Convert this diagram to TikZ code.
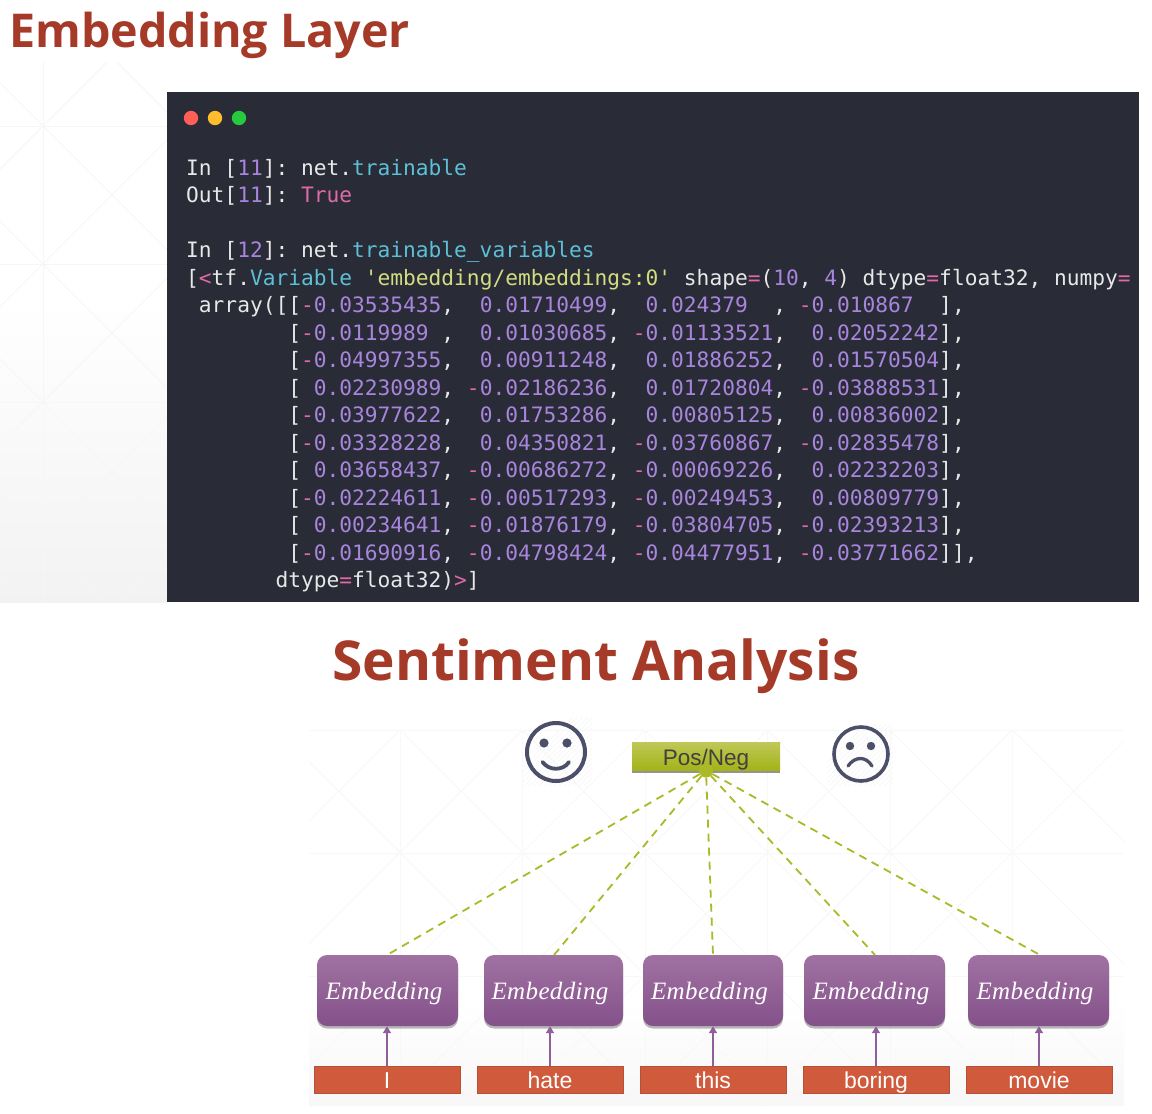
\documentclass[tikz,border=0pt]{standalone}
\usepackage{fontspec}
\usepackage{xcolor}
\usetikzlibrary{arrows.meta,shadows}
\newfontfamily\codefont{DejaVu Sans Mono}
\newfontfamily\titlefont{Open Sans}
\newfontfamily\labelfont{Liberation Sans}
\newfontfamily\embfont[LetterSpace=1.5]{Liberation Serif}
\definecolor{cTerm}{HTML}{292B36}
\definecolor{cWhite}{HTML}{E8E8E8}
\definecolor{cCyan}{HTML}{5CC0D6}
\definecolor{cPink}{HTML}{E06AA8}
\definecolor{cPurp}{HTML}{A885DC}
\definecolor{cYell}{HTML}{D3DC80}
\definecolor{cTitle}{HTML}{A53A28}
\definecolor{cOlive}{HTML}{AAB925}
\definecolor{cFace}{HTML}{4B4F68}
\definecolor{cLine}{HTML}{F6F6F6}
\definecolor{cLineB}{HTML}{F8F8F8}
\definecolor{cWord}{HTML}{D05A3C}
\definecolor{cWordB}{HTML}{B84F38}
\definecolor{cArrow}{HTML}{8E5F9A}
\definecolor{cEmbTop}{HTML}{A072A2}
\definecolor{cEmbBot}{HTML}{84518A}
\definecolor{cDotR}{HTML}{FF5F56}
\definecolor{cDotY}{HTML}{FFBD2E}
\definecolor{cDotG}{HTML}{27C93F}
\definecolor{cPosTop}{HTML}{BFC858}
\definecolor{cPosBot}{HTML}{A3B317}
\newcommand\cC[1]{\textcolor{cCyan}{#1}}
\newcommand\cK[1]{\textcolor{cPink}{#1}}
\newcommand\cN[1]{\textcolor{cPurp}{#1}}
\newcommand\cY[1]{\textcolor{cYell}{#1}}
\newcommand\mm{\cK{-}}
\tikzset{
  codeline/.style={anchor=base west,inner sep=0pt,text=cWhite,font=\codefont\fontsize{21.2}{21.2}\selectfont},
  embbox/.style={draw=none,rounded corners=10pt,minimum height=71pt,inner sep=0pt,
    top color=cEmbTop,bottom color=cEmbBot,text=white,text height=21pt,text depth=4pt,
    drop shadow={shadow xshift=0pt,shadow yshift=-2.5pt,opacity=.4,fill=black!70},
    font=\embfont\itshape\fontsize{25}{25}\selectfont},
  wordbox/.style={draw=cWordB,line width=.9pt,fill=cWord,minimum width=146pt,minimum height=27pt,inner sep=0pt,
    text=white,text height=20pt,text depth=3pt,font=\labelfont\fontsize{23}{23}\selectfont},
  dashlink/.style={draw=cOlive,line width=1.8pt,dash pattern=on 8pt off 6pt},
  uparrow/.style={draw=cArrow,line width=1.6pt,-{Triangle[length=7pt,width=8pt]}},
  facering/.style={circle,draw=cFace,line width=4pt,inner sep=0pt,fill=none},
  faceline/.style={draw=cFace,line width=3.8pt,line cap=round},
  bgline/.style={draw=cLine,line width=.9pt},
  bglineb/.style={draw=cLineB,line width=.9pt},
  bghatch/.style={draw=cLineB,line width=.8pt},
  titletext/.style={anchor=base west,inner sep=0pt,text=cTitle}
}
\begin{document}
\begin{tikzpicture}[x=1pt,y=-1pt]
\useasboundingbox (0,0) rectangle (1152,1114);
\fill[white] (0,0) rectangle (1152,1114);
% upper background
\shade[top color=white,bottom color=white!95!black] (0,300) rectangle (167,602);
\begin{scope}
\clip (0,62) rectangle (167,602);
\foreach \k in {0,1,2,3}{
  \draw[bgline] (0,126+138*\k) -- (167,126+138*\k);
}
\draw[bgline] (43,62) -- (43,602);
\foreach \k in {-3,...,4}{
  \draw[bgline] (-100,-17+138*\k) -- (600,683+138*\k);
  \draw[bgline] (-100,269+138*\k) -- (600,-431+138*\k);
}
\end{scope}
% lower background
\shade[top color=white,bottom color=white!97!black] (309,1000) rectangle (1124,1105);
\begin{scope}
\clip (309,730) rectangle (1124,1105);
\foreach \k in {0,1,2,3}{
  \draw[bglineb] (309,730+123*\k) -- (1124,730+123*\k);
}
\foreach \k in {-1,0,...,6}{
  \draw[bglineb] (400+122.5*\k,730) -- (400+122.5*\k,1105);
  \draw[bglineb] (400+122.5*\k,730) -- (800+122.5*\k,1130);
  \draw[bglineb] (400+122.5*\k,730) -- (0+122.5*\k,1130);
}
\end{scope}
% hatches behind the faces
\begin{scope}
\clip (522,717) rectangle (592,785);
\foreach \k in {0,...,28}{\draw[bghatch] (500+5*\k,790) -- (580+5*\k,710);}
\end{scope}
\begin{scope}
\clip (827,724) rectangle (893,785);
\foreach \k in {0,...,28}{\draw[bghatch] (800+5*\k,790) -- (880+5*\k,710);}
\end{scope}
% titles
\node[titletext,font=\titlefont\bfseries\fontsize{46.6}{46.6}\selectfont] (title1) at (9,47) {Embedding Layer};
\node[titletext,font=\titlefont\bfseries\fontsize{55}{55}\selectfont] (title2) at (332,680) {Sentiment Analysis};
% terminal
\fill[cTerm] (166.5,92) rectangle (1139,602);
\fill[cDotR] (191,118) circle (7.2);
\fill[cDotY] (215,118) circle (7.2);
\fill[cDotG] (239,118) circle (7.2);
\newcommand\codeat[3]{\node[codeline] (code#1) at (186,175.5+27.47*#2) {#3};}
\codeat{a}{0}{In~[\cN{11}]:~net.\cC{trainable}}
\codeat{b}{1}{Out[\cN{11}]:~\cK{True}}
\codeat{c}{3}{In~[\cN{12}]:~net.\cC{trainable\_variables}}
\codeat{d}{4}{[\cK{<}tf.\cC{Variable}~\cY{\char39 embedding/embeddings:0\char39}~shape\cK{=}(\cN{10},~\cN{4})~dtype\cK{=}float32,~numpy\cK{=}}
\codeat{e}{5}{~array([[\mm\cN{0.03535435},~~\cN{0.01710499},~~\cN{0.024379}~~,~\mm\cN{0.010867}~~],}
\codeat{f}{6}{~~~~~~~~[\mm\cN{0.0119989}~,~~\cN{0.01030685},~\mm\cN{0.01133521},~~\cN{0.02052242}],}
\codeat{g}{7}{~~~~~~~~[\mm\cN{0.04997355},~~\cN{0.00911248},~~\cN{0.01886252},~~\cN{0.01570504}],}
\codeat{h}{8}{~~~~~~~~[~\cN{0.02230989},~\mm\cN{0.02186236},~~\cN{0.01720804},~\mm\cN{0.03888531}],}
\codeat{i}{9}{~~~~~~~~[\mm\cN{0.03977622},~~\cN{0.01753286},~~\cN{0.00805125},~~\cN{0.00836002}],}
\codeat{j}{10}{~~~~~~~~[\mm\cN{0.03328228},~~\cN{0.04350821},~\mm\cN{0.03760867},~\mm\cN{0.02835478}],}
\codeat{k}{11}{~~~~~~~~[~\cN{0.03658437},~\mm\cN{0.00686272},~\mm\cN{0.00069226},~~\cN{0.02232203}],}
\codeat{l}{12}{~~~~~~~~[\mm\cN{0.02224611},~\mm\cN{0.00517293},~\mm\cN{0.00249453},~~\cN{0.00809779}],}
\codeat{m}{13}{~~~~~~~~[~\cN{0.00234641},~\mm\cN{0.01876179},~\mm\cN{0.03804705},~\mm\cN{0.02393213}],}
\codeat{n}{14}{~~~~~~~~[\mm\cN{0.01690916},~\mm\cN{0.04798424},~\mm\cN{0.04477951},~\mm\cN{0.03771662}]],}
\codeat{o}{15}{~~~~~~~dtype\cK{=}float32)\cK{>}]}
% faces
\node[facering,minimum size=58pt] (smile) at (556,752) {};
\fill[cFace] (544,743) circle (4.6) (567,743) circle (4.6);
\draw[faceline] (542.5,762) .. controls (549,771) and (563,771) .. (569,762);
\node[facering,minimum size=54pt,line width=3.6pt] (frown) at (861,754) {};
\fill[cFace] (850,746) circle (4.2) (871,746) circle (4.2);
\draw[faceline,line width=3.3pt] (848,766) .. controls (855,756) and (866,756) .. (872,766);
% output node
\node[draw=none,top color=cPosTop,bottom color=cPosBot,minimum width=148pt,minimum height=28pt,inner sep=0pt,
  text=black!75,text height=20pt,text depth=2pt,font=\labelfont\fontsize{22.5}{22.5}\selectfont,
  drop shadow={shadow xshift=0pt,shadow yshift=-3pt,opacity=.6,fill=black!70}] (pos) at (706,756) {Pos/Neg};
\node[circle,fill=cOlive,minimum size=14pt,inner sep=0pt] (hub) at (706,770.5) {};
% embeddings
\foreach \n/\cx/\w in {1/387.5/141,2/553.5/139,3/713/140,4/874.5/141,5/1038.5/141}{
  \node[embbox,minimum width=\w pt] (emb\n) at (\cx,990.5) {Embedding\hspace{7pt}\mbox{}};
}
% words
\foreach \n/\cx/\t in {1/387/I,2/550/hate,3/713/this,4/876/boring,5/1039/movie}{
  \node[wordbox] (word\n) at (\cx,1079.5) {\t};
  \draw[uparrow] (word\n.north) -- (word\n.north |- emb\n.south);
}
% dashed links
\foreach \n/\tx in {1/387,2/554,3/713,4/875,5/1040}{
  \coordinate (top\n) at (\tx,955);
  \draw[dashlink] (hub) -- (top\n);
}
\end{tikzpicture}
\end{document}
